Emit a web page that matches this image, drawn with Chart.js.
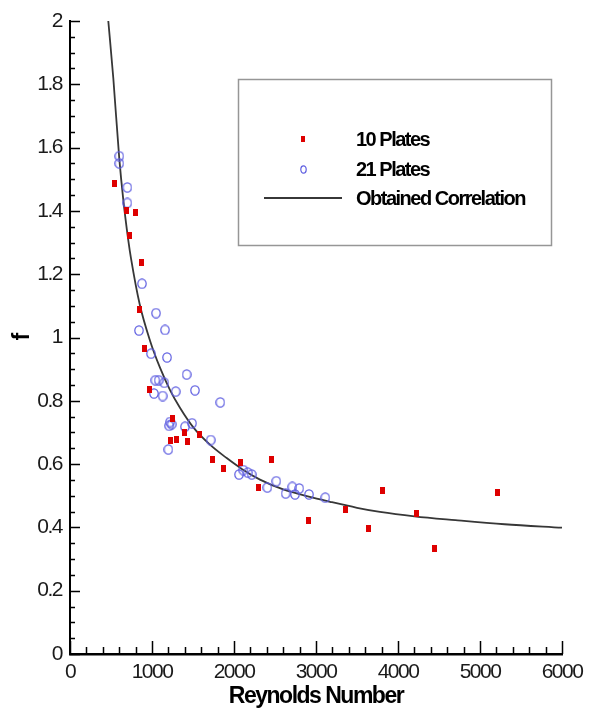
<!DOCTYPE html>
<html>
<head>
<meta charset="utf-8">
<script src="https://cdn.jsdelivr.net/npm/chart.js@4/dist/chart.umd.min.js"></script>
<style>
  body { margin: 0; background: #fff; }
  #wrap { width: 589px; height: 711px; }
</style>
</head>
<body>
<div id="wrap"><canvas id="friction-chart" width="589" height="711"></canvas></div>
<script>
/*==== data ====*/
// 10 plates (red squares)
const plates10Re = [537, 691, 793, 720, 866, 849, 906, 972, 1244, 1402, 1581, 1224, 1293, 1439,
    1736, 2085, 1878, 2296, 2455, 2906, 3357, 3638, 3809, 4223, 4443, 5211];
const plates10F = [1.486, 1.401, 1.395, 1.322, 1.236, 1.089, 0.965, 0.837, 0.744, 0.699, 0.692, 0.674, 0.678, 0.672,
    0.616, 0.605, 0.587, 0.526, 0.616, 0.422, 0.456, 0.395, 0.516, 0.444, 0.334, 0.509];
// 21 plates (blue circles)
const plates21Re = [601, 601, 699, 699, 878, 1049, 841, 1159, 988, 1183, 1423, 1041, 1081, 1150,
    1524, 1289, 1024, 1130, 1833, 1220, 1240, 1210, 1402, 1488, 1716, 1199,
    2113, 2167, 2216, 2061, 2407, 2516, 2630, 2711, 2744, 2796, 2915, 3113];
const plates21F = [1.573, 1.550, 1.474, 1.425, 1.170, 1.077, 1.022, 1.024, 0.949, 0.937, 0.883, 0.865, 0.865, 0.857,
    0.833, 0.829, 0.823, 0.815, 0.795, 0.733, 0.726, 0.721, 0.718, 0.729, 0.676, 0.646,
    0.581, 0.573, 0.567, 0.567, 0.526, 0.546, 0.507, 0.528, 0.504, 0.523, 0.504, 0.494];
// obtained correlation (curve)
const corrRe = [467, 528, 601, 650, 711, 744, 850, 976, 1100, 1220, 1341, 1504, 1700, 1911,
    2100, 2317, 2600, 2900, 3171, 3500, 3780, 4200, 4700, 5300, 6000];
const corrF = [2.0, 1.82, 1.565, 1.435, 1.307, 1.25, 1.105, 0.99, 0.903, 0.834, 0.778, 0.716, 0.663, 0.619,
    0.584, 0.551, 0.520, 0.498, 0.481, 0.462, 0.449, 0.435, 0.423, 0.410, 0.399];

const seriesLabels = ['10 Plates', '21 Plates', 'Obtained Correlation'];

function toPoints(xs, ys) {
    return xs.map(function (x, i) { return { x: x, y: ys[i] }; });
}

/*==== marker images ====*/
function makeSquare(w, h, color) {
    var c = document.createElement('canvas');
    c.width = w; c.height = h;
    var g = c.getContext('2d');
    g.fillStyle = color;
    g.fillRect(0, 0, w, h);
    return c;
}
function makeRing(w, h, color) {
    var c = document.createElement('canvas');
    c.width = w; c.height = h;
    var g = c.getContext('2d');
    g.strokeStyle = color;
    g.lineWidth = 1.2;
    g.beginPath();
    g.ellipse(w / 2, h / 2, w / 2 - 0.8, h / 2 - 0.8, 0, 0, Math.PI * 2);
    g.stroke();
    return c;
}
const red = 'rgb(222, 0, 0)';
const blue = 'rgb(95, 95, 225)';
const lineColor = 'rgb(55, 55, 55)';
const squareImg = makeSquare(5, 7, red);
const ringImg = makeRing(10, 11, blue);
const squareSmall = makeSquare(4, 6, red);
const ringSmall = makeRing(7, 9, blue);

const fontFamily = '"Liberation Sans", Arial, sans-serif';

// the original lettering is narrow, tighten it a little
const tightText = {
    id: 'tightText',
    beforeLayout: function (chart) { chart.ctx.letterSpacing = '-1.5px'; },
    beforeDraw: function (chart) { chart.ctx.letterSpacing = '-1.5px'; }
};

/*==== ticks pointing into the plot + boxed legend ====*/
const axisDecor = {
    id: 'axisDecor',
    afterDraw: function (chart) {
        var ctx = chart.ctx, xs = chart.scales.x, ys = chart.scales.y;
        var left = chart.chartArea.left, bottom = chart.chartArea.bottom;
        ctx.save();
        ctx.strokeStyle = '#000';
        ctx.lineWidth = 1.5;
        ctx.beginPath();
        for (var v = 0; v <= 6000; v += 200) {
            var px = Math.round(xs.getPixelForValue(v)) + 0.5;
            var len = (v % 1000 === 0) ? 13 : 7;
            ctx.moveTo(px, bottom);
            ctx.lineTo(px, bottom - len);
        }
        for (var k = 0; k <= 40; k++) {
            var py = Math.round(ys.getPixelForValue(k * 0.05)) + 0.5;
            var l2 = (k % 4 === 0) ? 10 : 5;
            ctx.moveTo(left, py);
            ctx.lineTo(left + l2, py);
        }
        ctx.stroke();

        // legend box
        ctx.strokeStyle = 'rgb(150,150,150)';
        ctx.lineWidth = 1.5;
        ctx.strokeRect(238.5, 79.5, 313, 166);
        ctx.fillStyle = '#000';
        ctx.font = 'bold 20px ' + fontFamily;
        ctx.textBaseline = 'middle';
        ctx.textAlign = 'left';
        ctx.drawImage(squareSmall, 301, 136);
        ctx.fillText(seriesLabels[0], 356, 140);
        ctx.drawImage(ringSmall, 300, 165);
        ctx.fillText(seriesLabels[1], 356, 170);
        ctx.strokeStyle = lineColor;
        ctx.lineWidth = 2;
        ctx.beginPath();
        ctx.moveTo(264, 198);
        ctx.lineTo(342, 198);
        ctx.stroke();
        ctx.fillText(seriesLabels[2], 356, 199);
        ctx.restore();
    }
};

const config_friction = {
    type: 'scatter',
    data: {
        datasets: [
            {
                label: seriesLabels[0],
                data: toPoints(plates10Re, plates10F),
                pointStyle: squareImg,
                pointRadius: 4,
                order: 1
            },
            {
                label: seriesLabels[1],
                data: toPoints(plates21Re, plates21F),
                pointStyle: ringImg,
                pointRadius: 4,
                order: 2
            },
            {
                label: seriesLabels[2],
                data: toPoints(corrRe, corrF),
                showLine: true,
                borderColor: lineColor,
                borderWidth: 1.8,
                pointRadius: 0,
                cubicInterpolationMode: 'monotone',
                order: 3
            }
        ]
    },
    options: {
        responsive: false,
        animation: false,
        layout: { padding: { top: 21, right: 27, left: 0, bottom: 0 } },
        plugins: {
            legend: { display: false },
            tooltip: { enabled: false }
        },
        scales: {
            x: {
                type: 'linear',
                min: 0,
                max: 6000,
                grid: { display: false, drawTicks: false },
                border: { display: true, color: '#000', width: 2.5 },
                ticks: {
                    stepSize: 1000,
                    padding: 6,
                    color: '#1a1a1a',
                    font: { family: fontFamily, size: 21 },
                    callback: function (v) { return String(v); }
                },
                title: {
                    display: true,
                    text: 'Reynolds Number',
                    color: '#000',
                    font: { family: fontFamily, size: 23, weight: 'bold' },
                    padding: { top: 0, bottom: 1 }
                },
                afterFit: function (scale) { scale.height = 57; }
            },
            y: {
                type: 'linear',
                min: 0,
                max: 2,
                grid: { display: false, drawTicks: false },
                border: { display: true, color: '#000', width: 2 },
                ticks: {
                    stepSize: 0.2,
                    padding: 8,
                    color: '#1a1a1a',
                    font: { family: fontFamily, size: 21 },
                    callback: function (v) { return String(Math.round(v * 10) / 10); }
                },
                title: {
                    display: true,
                    text: 'f',
                    color: '#000',
                    font: { family: fontFamily, size: 23, weight: 'bold' },
                    padding: { top: 9, bottom: 0 }
                },
                afterFit: function (scale) { scale.width = 70; }
            }
        }
    },
    plugins: [tightText, axisDecor]
};

/*===== render graphic =====*/
var frictionChart = new Chart(document.getElementById('friction-chart'), config_friction);
</script>
</body>
</html>
